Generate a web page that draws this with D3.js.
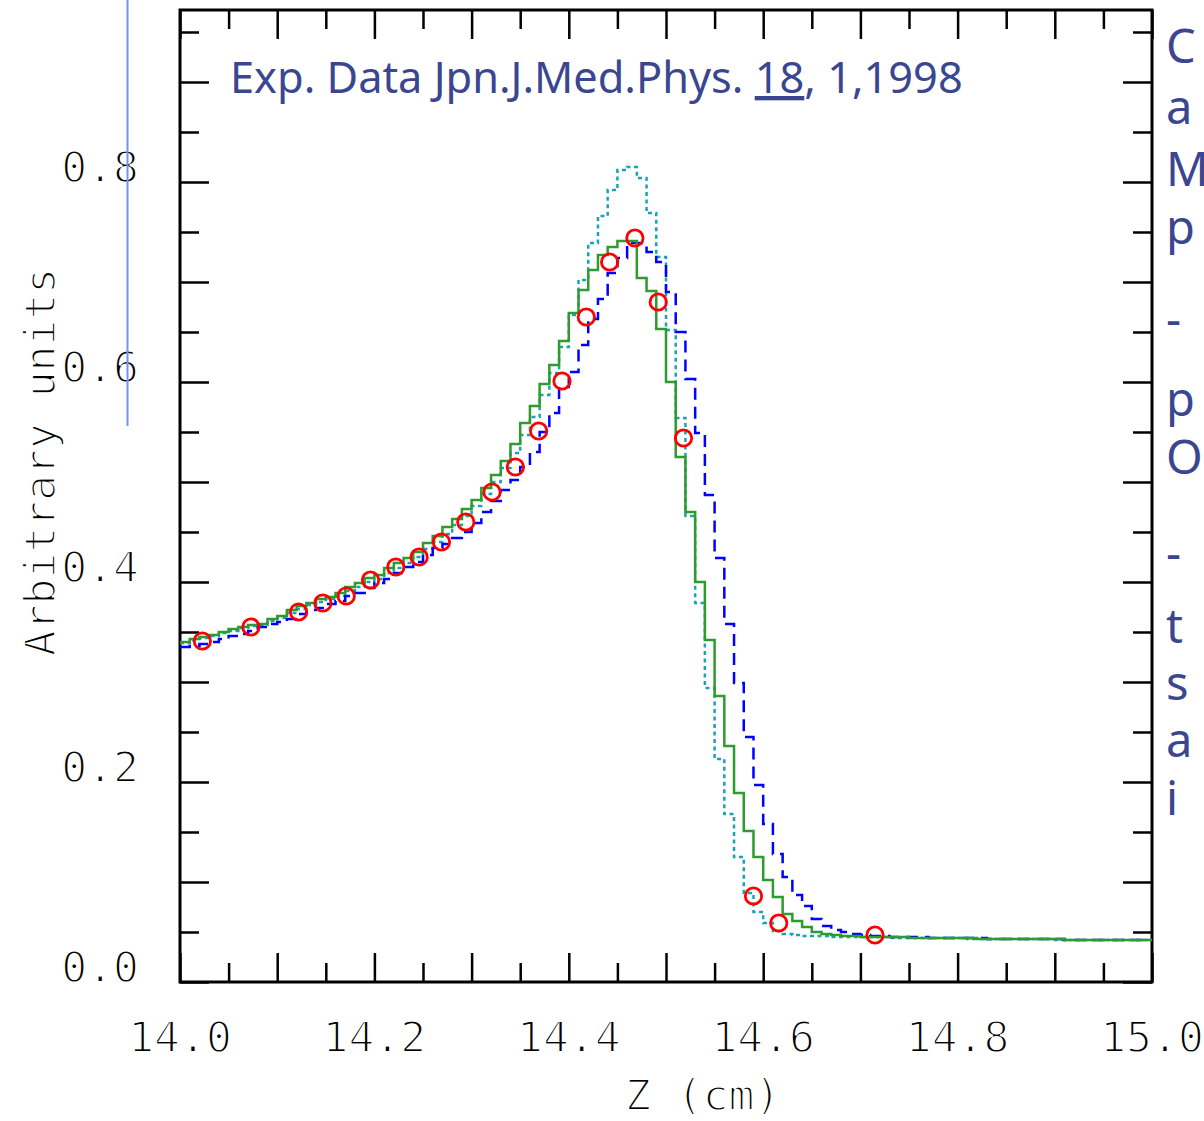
<!DOCTYPE html>
<html>
<head>
<meta charset="utf-8">
<script src="https://cdn.jsdelivr.net/npm/d3@7"></script>
<style>
  body { margin: 0; background: #fff; }
  svg { display: block; }
</style>
</head>
<body>
<svg id="chart"></svg>
<script>
// histogram bins: 14.00 .. 15.00 cm, 0.01 cm wide
const binStart = 14.0;
const binWidth = 0.01;

// green solid histogram
const greenSolid = [
  0.340, 0.343, 0.345, 0.347, 0.350, 0.353, 0.355, 0.357, 0.358, 0.363,
  0.366, 0.372, 0.376, 0.379, 0.383, 0.385, 0.389, 0.395, 0.399, 0.404,
  0.407, 0.414, 0.419, 0.424, 0.430, 0.439, 0.446, 0.455, 0.463, 0.473,
  0.482, 0.494, 0.507, 0.521, 0.538, 0.559, 0.576, 0.598, 0.617, 0.641,
  0.669, 0.692, 0.712, 0.727, 0.735, 0.741, 0.741, 0.704, 0.691, 0.653,
  0.600, 0.525, 0.470, 0.400, 0.342, 0.286, 0.236, 0.189, 0.151, 0.125,
  0.102, 0.085, 0.068, 0.061, 0.055, 0.050, 0.048, 0.047, 0.046, 0.046,
  0.045, 0.045, 0.045, 0.045, 0.045, 0.044, 0.044, 0.044, 0.044, 0.044,
  0.044, 0.044, 0.043, 0.043, 0.043, 0.043, 0.043, 0.043, 0.043, 0.043,
  0.043, 0.042, 0.042, 0.042, 0.042, 0.042, 0.042, 0.042, 0.042, 0.042
];

// cyan dotted histogram
const cyanDotted = [
  0.339, 0.342, 0.344, 0.346, 0.349, 0.351, 0.354, 0.356, 0.357, 0.361,
  0.364, 0.369, 0.373, 0.377, 0.380, 0.383, 0.386, 0.391, 0.395, 0.400,
  0.403, 0.409, 0.414, 0.419, 0.425, 0.433, 0.440, 0.448, 0.457, 0.466,
  0.476, 0.488, 0.500, 0.514, 0.529, 0.547, 0.565, 0.587, 0.609, 0.635,
  0.667, 0.702, 0.739, 0.766, 0.792, 0.812, 0.815, 0.804, 0.769, 0.725,
  0.652, 0.564, 0.466, 0.379, 0.294, 0.223, 0.168, 0.125, 0.089, 0.070,
  0.059, 0.051, 0.048, 0.047, 0.046, 0.046, 0.046, 0.045, 0.045, 0.045,
  0.045, 0.045, 0.045, 0.044, 0.044, 0.044, 0.044, 0.044, 0.044, 0.044,
  0.044, 0.043, 0.043, 0.043, 0.043, 0.043, 0.043, 0.043, 0.043, 0.043,
  0.042, 0.042, 0.042, 0.042, 0.042, 0.042, 0.042, 0.042, 0.042, 0.042
];

// blue dashed histogram
const blueDashed = [
  0.335, 0.336, 0.338, 0.340, 0.343, 0.346, 0.348, 0.351, 0.355, 0.358,
  0.360, 0.363, 0.368, 0.372, 0.374, 0.378, 0.381, 0.386, 0.389, 0.394,
  0.399, 0.403, 0.409, 0.415, 0.420, 0.427, 0.434, 0.438, 0.444, 0.450,
  0.459, 0.470, 0.481, 0.492, 0.502, 0.515, 0.530, 0.550, 0.569, 0.595,
  0.610, 0.637, 0.663, 0.683, 0.709, 0.724, 0.739, 0.739, 0.730, 0.720,
  0.690, 0.650, 0.603, 0.549, 0.487, 0.424, 0.358, 0.299, 0.245, 0.197,
  0.158, 0.128, 0.105, 0.087, 0.076, 0.063, 0.056, 0.052, 0.050, 0.048,
  0.047, 0.046, 0.046, 0.045, 0.045, 0.045, 0.045, 0.044, 0.044, 0.044,
  0.044, 0.044, 0.044, 0.043, 0.043, 0.043, 0.043, 0.043, 0.043, 0.043,
  0.043, 0.042, 0.042, 0.042, 0.042, 0.042, 0.042, 0.042, 0.042, 0.042
];

// experimental points (red circles)
const expZ = [
  14.023, 14.073, 14.122, 14.147, 14.171, 14.196, 14.222, 14.246, 14.269, 14.294,
  14.321, 14.345, 14.369, 14.393, 14.418, 14.442, 14.468, 14.492, 14.518,
  14.590, 14.616, 14.715
];
const expValue = [
  0.341, 0.355, 0.370, 0.379, 0.386, 0.402, 0.415, 0.425, 0.440, 0.460,
  0.490, 0.515, 0.551, 0.601, 0.665, 0.720, 0.744, 0.680, 0.544,
  0.086, 0.059, 0.047
];

const xMajor = [14.0, 14.1, 14.2, 14.3, 14.4, 14.5, 14.6, 14.7, 14.8, 14.9, 15.0];
const xMinor = [14.05, 14.15, 14.25, 14.35, 14.45, 14.55, 14.65, 14.75, 14.85, 14.95];
const xLabels = [14.0, 14.2, 14.4, 14.6, 14.8, 15.0];
const yMajor = [0.0, 0.1, 0.2, 0.3, 0.4, 0.5, 0.6, 0.7, 0.8, 0.9];
const yMinor = [0.05, 0.15, 0.25, 0.35, 0.45, 0.55, 0.65, 0.75, 0.85, 0.95];
const yLabels = [0.0, 0.2, 0.4, 0.6, 0.8];

// slide text cut off by the right edge: only first letters show
const sideLetters = ["C", "a", "M", "p", "-", "p", "O", "-", "t", "s", "a", "i"];
const sideBaselines = [63, 124, 186, 244, 336, 416, 474, 570, 643, 700, 757, 815];

const width = 1204, height = 1121;
const plot = { left: 180, right: 1152, top: 10, bottom: 982 };
const ink = "#3b4690";
const monoFont = "'DejaVu Sans Mono', monospace";

const svg = d3.select("#chart").attr("width", width).attr("height", height);

const x = d3.scaleLinear().domain([14.0, 15.0]).range([plot.left, plot.right]);
const y = d3.scaleLinear().domain([0, 0.972]).range([plot.bottom, plot.top]);

svg.append("clipPath").attr("id", "clip")
  .append("rect")
  .attr("x", plot.left).attr("y", plot.top)
  .attr("width", plot.right - plot.left).attr("height", plot.bottom - plot.top);

// ticks on all four sides, pointing inwards
function tickAxis(axis, transform, values, size) {
  const g = svg.append("g")
    .attr("transform", transform)
    .call(axis.tickValues(values).tickSize(-size).tickFormat(""));
  g.select(".domain").remove();
  g.selectAll("line").attr("stroke", "#000").attr("stroke-width", 2.5);
}
tickAxis(d3.axisBottom(x), `translate(0,${plot.bottom})`, xMajor, 29);
tickAxis(d3.axisBottom(x), `translate(0,${plot.bottom})`, xMinor, 19);
tickAxis(d3.axisTop(x), `translate(0,${plot.top})`, xMajor, 29);
tickAxis(d3.axisTop(x), `translate(0,${plot.top})`, xMinor, 19);
tickAxis(d3.axisLeft(y), `translate(${plot.left},0)`, yMajor, 29);
tickAxis(d3.axisLeft(y), `translate(${plot.left},0)`, yMinor, 19);
tickAxis(d3.axisRight(y), `translate(${plot.right},0)`, yMajor, 29);
tickAxis(d3.axisRight(y), `translate(${plot.right},0)`, yMinor, 19);

svg.append("rect")
  .attr("x", plot.left).attr("y", plot.top)
  .attr("width", plot.right - plot.left).attr("height", plot.bottom - plot.top)
  .attr("fill", "none").attr("stroke", "#000").attr("stroke-width", 3);

// step histograms
const step = d3.line()
  .x(d => x(d[0]))
  .y(d => y(d[1]))
  .curve(d3.curveStepAfter);

function histPoints(values) {
  const pts = values.map((v, i) => [binStart + i * binWidth, v]);
  pts.push([binStart + values.length * binWidth, values[values.length - 1]]);
  return pts;
}

const series = [
  { values: cyanDotted, color: "#1aa3b5", dash: "4,3.5" },
  { values: blueDashed, color: "#0000ff", dash: "12,7" },
  { values: greenSolid, color: "#2e9b2e", dash: null }
];

const curves = svg.append("g").attr("clip-path", "url(#clip)");
series.forEach(s => {
  curves.append("path")
    .datum(histPoints(s.values))
    .attr("d", step)
    .attr("fill", "none")
    .attr("stroke", s.color)
    .attr("stroke-width", 2.5)
    .attr("stroke-dasharray", s.dash);
});

curves.selectAll("circle.exp")
  .data(expZ.map((z, i) => [z, expValue[i]]))
  .join("circle")
  .attr("class", "exp")
  .attr("cx", d => x(d[0]))
  .attr("cy", d => y(d[1]))
  .attr("r", 8.2)
  .attr("fill", "none")
  .attr("stroke", "#ff0000")
  .attr("stroke-width", 2.8);

// the plotter font is a thin monoline one, so shave the glyphs with a white stroke
function thinMono(sel) {
  sel.attr("font-family", monoFont)
    .attr("font-size", 43)
    .attr("fill", "#000")
    .attr("stroke", "#fff")
    .attr("stroke-width", 1.8);
}

// tick labels
svg.append("g").selectAll("text")
  .data(xLabels)
  .join("text")
  .attr("x", d => x(d))
  .attr("y", 1052)
  .attr("text-anchor", "middle")
  .call(thinMono)
  .text(d => d.toFixed(1));

svg.append("g").selectAll("text")
  .data(yLabels)
  .join("text")
  .attr("x", 139)
  .attr("y", d => y(d))
  .attr("text-anchor", "end")
  .call(thinMono)
  .text(d => d.toFixed(1));

// axis titles
svg.append("text")
  .attr("x", 625).attr("y", 1110)
  .call(thinMono)
  .text("Z (cm)");

svg.append("text")
  .attr("transform", "translate(55,462) rotate(-90)")
  .attr("text-anchor", "middle")
  .call(thinMono)
  .text("Arbitrary units");

// annotation, sized to span the same width as in the original
const note = svg.append("text")
  .attr("x", 230).attr("y", 93)
  .attr("font-family", "'Noto Sans', sans-serif")
  .attr("font-size", 44)
  .attr("fill", ink);
note.append("tspan").text("Exp. Data Jpn.J.Med.Phys. ");
note.append("tspan").style("text-decoration", "underline").text("18");
note.append("tspan").text(", 1,1998");
const noteWidth = note.node().getComputedTextLength();
note.attr("font-size", 44 * 733 / noteWidth);

// cut-off slide text on the right
svg.append("g").selectAll("text")
  .data(sideLetters)
  .join("text")
  .attr("x", 1166)
  .attr("y", (d, i) => sideBaselines[i])
  .attr("font-family", "'Noto Sans', sans-serif")
  .attr("font-size", 47)
  .attr("fill", ink)
  .text(d => d);

// stray blue guide line at the left
svg.append("line")
  .attr("x1", 127.5).attr("x2", 127.5)
  .attr("y1", 0).attr("y2", 426)
  .attr("stroke", "#7393f2")
  .attr("stroke-width", 2);
</script>
</body>
</html>
